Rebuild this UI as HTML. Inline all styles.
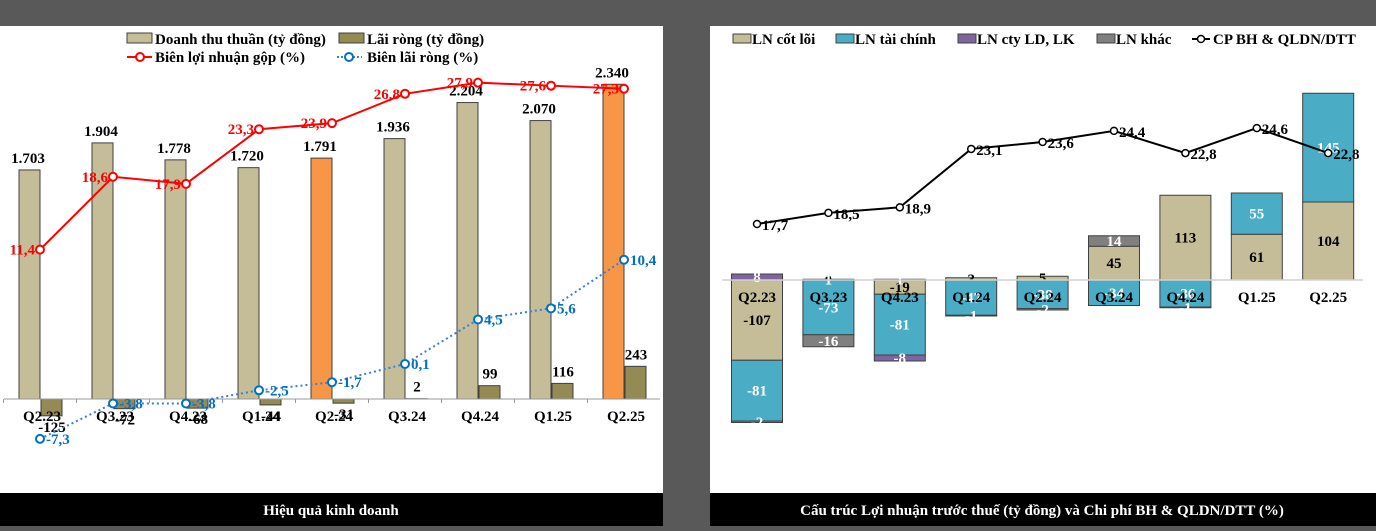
<!DOCTYPE html>
<html><head><meta charset="utf-8">
<style>
html,body{margin:0;padding:0;background:#595959;}
svg{display:block;font-family:"Liberation Serif",serif;font-weight:bold;}
</style></head>
<body>
<svg id="s" width="1376" height="531" xmlns="http://www.w3.org/2000/svg">
<rect x="0" y="0" width="1376" height="531" fill="#595959"/>
<rect x="0" y="26" width="663" height="467" fill="#fff"/>
<rect x="0" y="493" width="663" height="33" fill="#000"/>
<text x="331" y="515" fill="#fff" font-size="15" text-anchor="middle">Hiệu quả kinh doanh</text>
<rect x="710" y="26" width="666" height="467" fill="#fff"/>
<rect x="710" y="493" width="666" height="33" fill="#000"/>
<text x="1042" y="515" fill="#fff" font-size="15" text-anchor="middle">Cấu trúc Lợi nhuận trước thuế (tỷ đồng) và Chi phí BH &amp; QLDN/DTT (%)</text>

<g font-size="15">
<rect x="127" y="33" width="25" height="10" fill="#C4BD97" stroke="#404040"/>
<text x="155" y="44">Doanh thu thuần (tỷ đồng)</text>
<rect x="339" y="33" width="25" height="10" fill="#948A54" stroke="#404040"/>
<text x="367" y="44">Lãi ròng (tỷ đồng)</text>
<line x1="127" y1="57" x2="152" y2="57" stroke="#f00" stroke-width="2"/>
<circle cx="140" cy="57" r="4" fill="#fff" stroke="#f00" stroke-width="2"/>
<text x="155" y="62">Biên lợi nhuận gộp (%)</text>
<line x1="337" y1="57" x2="362" y2="57" stroke="#3b7dd8" stroke-width="2" stroke-dasharray="2,2"/>
<circle cx="349" cy="57" r="4" fill="#fff" stroke="#0070c0" stroke-width="2"/>
<text x="367" y="62">Biên lãi ròng (%)</text>
</g>

<g font-size="15">
<rect x="733" y="34" width="18" height="9" fill="#C4BD97" stroke="#404040"/>
<text x="752" y="44">LN cốt lõi</text>
<rect x="836" y="34" width="18" height="9" fill="#4BACC6" stroke="#404040"/>
<text x="855" y="44">LN tài chính</text>
<rect x="958" y="34" width="18" height="9" fill="#8064A2" stroke="#404040"/>
<text x="977" y="44">LN cty LD, LK</text>
<rect x="1097" y="34" width="18" height="9" fill="#808080" stroke="#404040"/>
<text x="1116" y="44">LN khác</text>
<line x1="1192" y1="39" x2="1210" y2="39" stroke="#000" stroke-width="2"/>
<circle cx="1201" cy="39" r="3.5" fill="#fff" stroke="#000" stroke-width="1.5"/>
<text x="1213" y="44">CP BH &amp; QLDN/DTT</text>
</g>
<g id="L"></g>
<g id="R"></g>
</svg>
<script>
const categories=["Q2.23","Q3.23","Q4.23","Q1.24","Q2.24","Q3.24","Q4.24","Q1.25","Q2.25"];
const revenue=[1703,1904,1778,1720,1791,1936,2204,2070,2340];
const revenueLabels=["1.703","1.904","1.778","1.720","1.791","1.936","2.204","2.070","2.340"];
const highlight=[false,false,false,false,true,false,false,false,true];
const netProfit=[-125,-72,-68,-44,-31,2,99,116,243];
const grossMargin=[11.4,18.6,17.9,23.3,23.9,26.8,27.9,27.6,27.3];
const netMargin=[-7.3,-3.8,-3.8,-2.5,-1.7,0.1,4.5,5.6,10.4];
const coreProfit=[-107,0,-19,3,5,45,113,61,104];
const finProfit=[-81,-73,-81,-47,-38,-34,-36,55,145];
const jvProfit=[8,1,-8,0,0,0,0,0,0];
const otherProfit=[-2,-16,1,-1,-2,14,-1,0,0];
const expenseRatio=[17.7,18.5,18.9,23.1,23.6,24.4,22.8,24.6,22.8];

const NS="http://www.w3.org/2000/svg";
function mk(p,tag,a,txt){const e=document.createElementNS(NS,tag);for(const k in a)e.setAttribute(k,a[k]);if(txt!==undefined)e.textContent=txt;p.appendChild(e);return e;}
const fmt=v=>v.toFixed(1).replace('.',',');
const FS=15;

// LEFT
const L=document.getElementById('L');
const lx=i=>40+i*73, ly=v=>399-v*0.1345, lp=v=>365-v*10.12;
categories.forEach((c,i)=>{
  const x=lx(i);
  const r=mk(L,'rect',{x:x-21,y:ly(revenue[i]),width:21,height:ly(0)-ly(revenue[i]),fill:highlight[i]?'#F79646':'#C4BD97',stroke:'#404040','stroke-width':1});
  
  
  const t=mk(L,'text',{x:x-12,y:ly(revenue[i])-7,'font-size':FS,'text-anchor':'middle'},revenueLabels[i]);
  
  
  const v=netProfit[i];
  const b=mk(L,'rect',{x:x+1,y:Math.min(ly(v),ly(0)),width:21,height:Math.abs(ly(v)-ly(0)),fill:'#948A54',stroke:'#404040','stroke-width':1});
  
  
  const nt=mk(L,'text',{x:x+12,y:v>=0?ly(v)-7:ly(v)+16,'font-size':FS,'text-anchor':'middle'},String(v));
  
  
});
const ax=mk(L,'line',{x1:4,y1:399,x2:660,y2:399,stroke:'#999','stroke-width':1});


categories.forEach((c,i)=>{
  const tk=mk(L,'line',{x1:lx(i)-36.5,y1:399,x2:lx(i)-36.5,y2:403,stroke:'#999'});
  
  
  const t=mk(L,'text',{x:lx(i)+2,y:421,'font-size':FS,'text-anchor':'middle'},c);
  
  
});
const gl=mk(L,'polyline',{points:grossMargin.map((v,i)=>lx(i)+','+lp(v)).join(' '),fill:'none',stroke:'#f00','stroke-width':2});


const nl=mk(L,'polyline',{points:netMargin.map((v,i)=>lx(i)+','+lp(v)).join(' '),fill:'none',stroke:'#3b7dd8','stroke-width':2,'stroke-dasharray':'2,3'});


grossMargin.forEach((v,i)=>{
  const m=mk(L,'circle',{cx:lx(i),cy:lp(v),r:4,fill:'#fff',stroke:'#f00','stroke-width':2});
  
  
  const t=mk(L,'text',{x:lx(i)-5,y:lp(v)+5,'font-size':FS,fill:'#f00','text-anchor':'end'},fmt(v));
  
  
});
netMargin.forEach((v,i)=>{
  const m=mk(L,'circle',{cx:lx(i),cy:lp(v),r:4,fill:'#fff',stroke:'#0070c0','stroke-width':2});
  
  
  const t=mk(L,'text',{x:lx(i)+6,y:lp(v)+5,'font-size':FS,fill:'#0070c0'},fmt(v));
  
  
});

// RIGHT
const R=document.getElementById('R');
const rx=i=>757+i*71.4, ry=v=>280-v*0.75, rp=v=>224-(v-17.7)*13.9;
const series=[[coreProfit,'#C4BD97','#000','core'],[finProfit,'#4BACC6','#fff','financial'],[jvProfit,'#8064A2','#fff','jv'],[otherProfit,'#808080','#fff','other']];
categories.forEach((c,i)=>{
  let pos=0,neg=0;
  series.forEach(([arr,fill,tc,nm])=>{
    const v=arr[i];let y0,y1;
    if(v>=0){y0=pos;y1=pos+v;pos=y1;}else{y0=neg;y1=neg+v;neg=y1;}
    const top=ry(Math.max(y0,y1)),h=Math.abs(ry(y0)-ry(y1));
    if(h>0){
      const r=mk(R,'rect',{x:rx(i)-25.5,y:top,width:51,height:h,fill:fill,stroke:'#404040','stroke-width':1});
      
      
    }
    if(v!==0||nm==='core'||nm==='financial'){
      const t=mk(R,'text',{x:rx(i),y:top+h/2+5,'font-size':FS,fill:tc,'text-anchor':'middle'},String(v));
      
      
    }
  });
});
const rax=mk(R,'line',{x1:722,y1:280,x2:1363,y2:280,stroke:'#d0d0d0','stroke-width':1.5});


categories.forEach((c,i)=>{
  const t=mk(R,'text',{x:rx(i),y:302,'font-size':FS,'text-anchor':'middle'},c);
  
  
});
const el=mk(R,'polyline',{points:expenseRatio.map((v,i)=>rx(i)+','+rp(v)).join(' '),fill:'none',stroke:'#000','stroke-width':2});


expenseRatio.forEach((v,i)=>{
  const m=mk(R,'circle',{cx:rx(i),cy:rp(v),r:3.5,fill:'#fff',stroke:'#000','stroke-width':1.5});
  
  
  const t=mk(R,'text',{x:rx(i)+5,y:rp(v)+6,'font-size':FS},fmt(v));
  
  
});
</script>
</body></html>
